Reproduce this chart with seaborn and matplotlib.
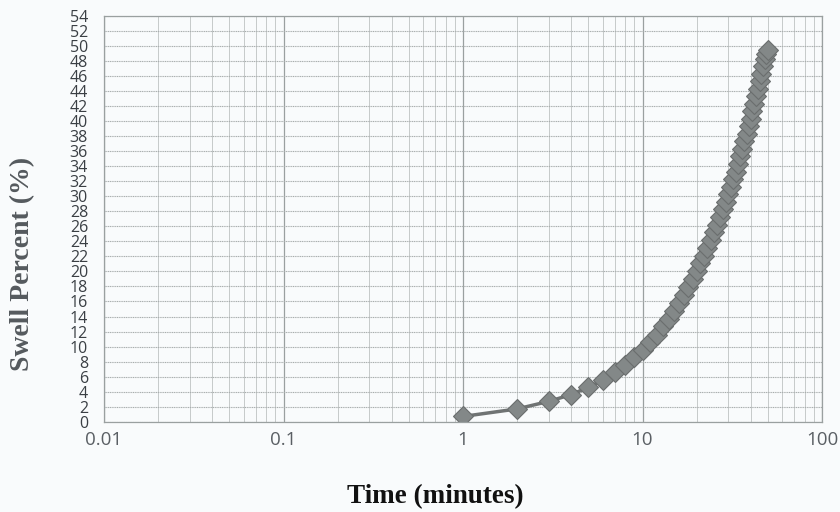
import matplotlib
matplotlib.use("Agg")
import matplotlib.pyplot as plt
import matplotlib.ticker as mticker
import numpy as np
import pandas as pd
import seaborn as sns

# data
time_min = [1, 2, 3, 4, 5, 6, 7, 8, 9, 10,
            11, 12, 13, 14, 15, 16, 17, 18, 19, 20,
            21, 22, 23, 24, 25, 26, 27, 28, 29, 30,
            31, 32, 33, 34, 35, 36, 37, 38, 39, 40,
            41, 42, 43, 44, 45, 46, 47, 48, 49, 50]
swell_pct = [0.7, 1.7, 2.7, 3.6, 4.6, 5.5, 6.6, 7.6, 8.6, 9.6,
             10.6, 11.6, 12.7, 13.7, 14.8, 15.8, 16.9, 17.9, 19.0, 20.0,
             21.1, 22.1, 23.1, 24.2, 25.2, 26.2, 27.3, 28.3, 29.3, 30.3,
             31.3, 32.3, 33.3, 34.3, 35.3, 36.3, 37.3, 38.3, 39.3, 40.3,
             41.3, 42.3, 43.3, 44.3, 45.3, 46.3, 47.3, 48.3, 49.0, 49.5]
y_ticks = list(range(0, 55, 2))
x_ticks = [0.01, 0.1, 1, 10, 100]
x_labels = ["0.01", "0.1", "1", "10", "100"]

df = pd.DataFrame({"time": time_min, "swell": swell_pct})

sns.set_style("white")
plt.rcParams['font.family'] = ['Open Sans', 'DejaVu Sans']

fig = plt.figure(figsize=(8.4, 5.12), dpi=100)
fig.patch.set_facecolor('#f9fbfc')
ax = fig.add_axes([104 / 840, 1 - 421.7 / 512, 718 / 840, (421.7 - 16) / 512])
ax.set_facecolor('#f9fbfc')

sns.lineplot(data=df, x="time", y="swell", ax=ax, color='#6f7373', lw=2.5,
             marker='D', markersize=10, markerfacecolor='#838888',
             markeredgecolor='#6a6e6e', markeredgewidth=0.8)

ax.set_xscale('log')
ax.set_xlim(0.01, 100)
ax.set_ylim(0, 54)
ax.set_xticks(x_ticks)
ax.set_xticklabels(x_labels)
ax.xaxis.set_minor_locator(mticker.LogLocator(base=10, subs=np.arange(2, 10)))
ax.xaxis.set_minor_formatter(mticker.NullFormatter())
ax.set_yticks(y_ticks)

ax.grid(True, which='major', axis='x', color='#9aa0a0', lw=0.9)
ax.grid(True, which='minor', axis='x', color='#c6caca', lw=0.7)
ax.grid(True, which='major', axis='y', color='#a8adad', lw=0.8, ls=(0, (1, 0.6)))
ax.set_axisbelow(True)

for s in ax.spines.values():
    s.set_color('#9aa0a0')
    s.set_linewidth(0.9)

ax.tick_params(axis='y', which='major', direction='inout', length=7, width=0.8,
               color='#8a9090', labelsize=11.5, labelcolor='#3a3f44', pad=8)
ax.tick_params(axis='x', which='major', length=0, labelsize=13.5,
               labelcolor='#5a5f64', pad=7)
ax.tick_params(axis='x', which='minor', length=0)

ax.set_xlabel("Time (minutes)", fontfamily=['Liberation Serif', 'DejaVu Serif'],
              fontweight='bold', fontsize=19.5, color='#111111')
ax.set_ylabel("Swell Percent (%)", fontfamily=['Liberation Serif', 'DejaVu Serif'],
              fontweight='bold', fontsize=20, color='#555a5e')
ax.xaxis.set_label_coords((435 - 104) / 718, -(484 - 421.7) / 405.7)
ax.yaxis.set_label_coords(-(104 - 35) / 718, (421.7 - 264) / 405.7)

fig.savefig("out.png", dpi=100, facecolor=fig.get_facecolor())
